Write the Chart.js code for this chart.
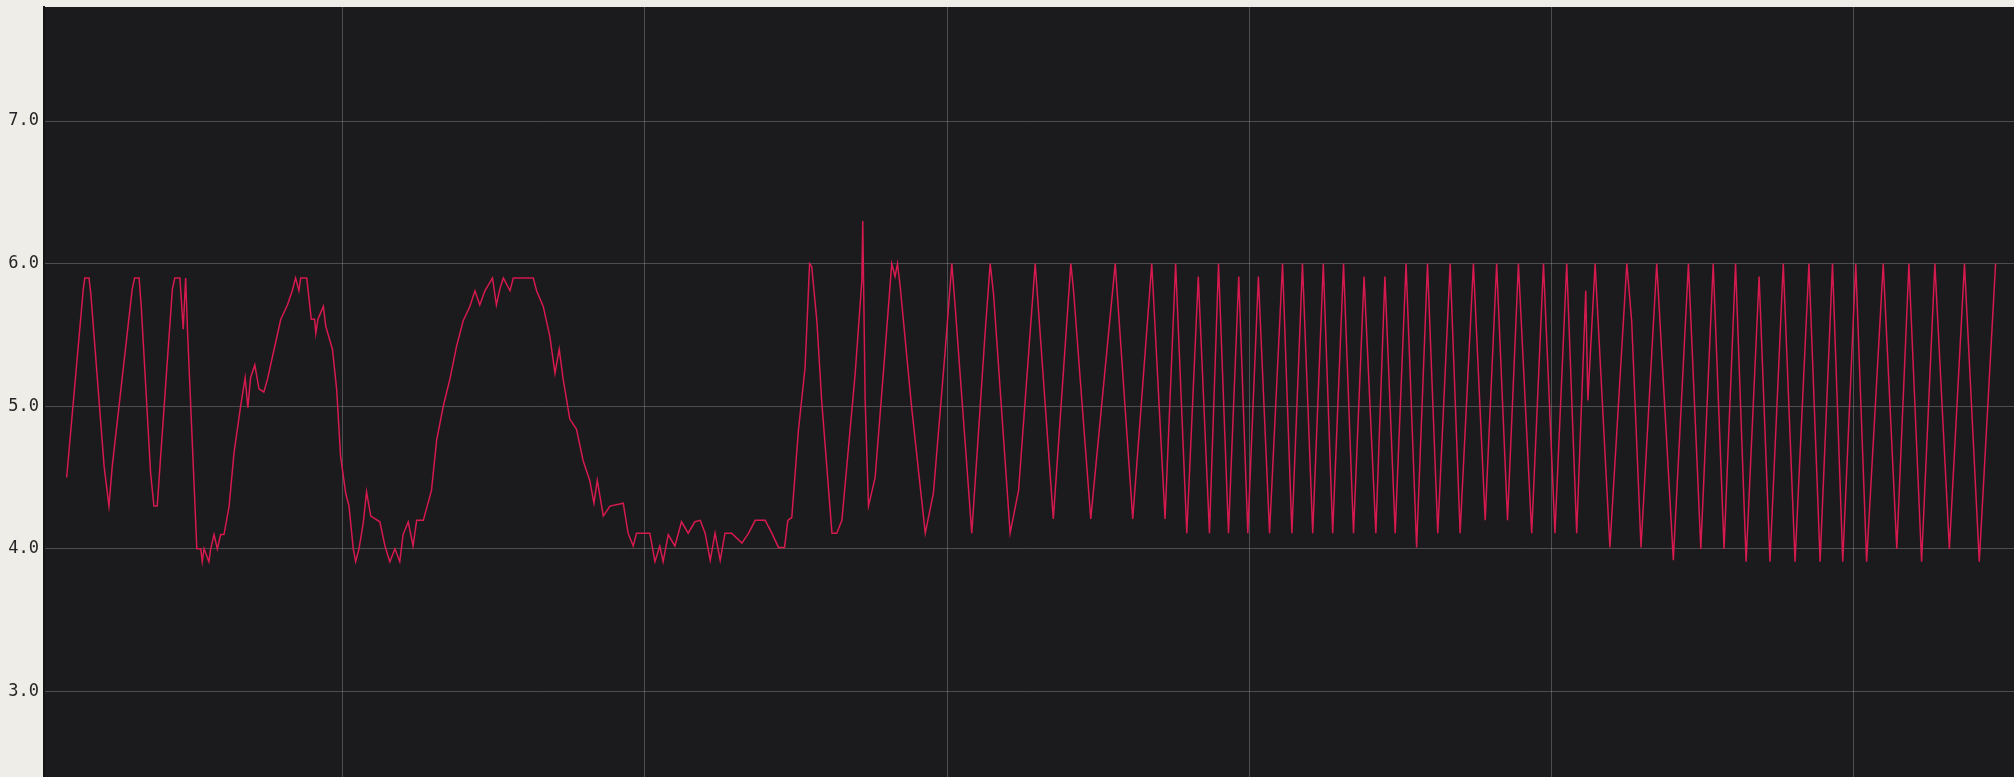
<!DOCTYPE html>
<html>
<head>
<meta charset="utf-8">
<title>waveform</title>
<script src="https://cdn.jsdelivr.net/npm/chart.js@4.4.1/dist/chart.umd.min.js"></script>
<style>
	html, body { margin:0; padding:0; background:#eeede8; }
	#wrap { position:relative; width:2014px; height:777px; }
</style>
</head>
<body>
<div id="wrap"><canvas id="scope"></canvas></div>
<script>

// slow sweep at the start (time in grid units, level in V)
var sweepTimes = [0.85,1.40,1.45,1.59,1.65,2.09,2.25,2.36,3.02,3.10,3.25,3.32,3.63,3.74,3.85,3.94,4.35,4.43,4.60,4.71,4.79,4.85,5.16,5.29,5.34,5.40,5.56,5.62,5.73,5.84,5.95,6.06,6.23,6.39,6.61,6.76,6.85,6.94,7.08,7.22,7.38,7.50,7.72,7.94,8.16,8.32,8.43,8.54,8.60,8.80,8.95,9.06,9.10,9.17,9.35,9.43,9.65,9.79,9.92,10.09,10.20,10.34,10.42,10.53,10.67,10.78,10.92];
var sweepLevels = [4.50,5.82,5.90,5.90,5.79,4.58,4.30,4.58,5.82,5.90,5.90,5.70,4.53,4.30,4.30,4.58,5.82,5.90,5.90,5.54,5.90,5.54,4.00,4.00,3.91,4.00,3.91,4.00,4.10,4.00,4.10,4.10,4.30,4.67,5.00,5.20,4.99,5.20,5.29,5.12,5.10,5.19,5.40,5.61,5.71,5.81,5.90,5.81,5.90,5.90,5.61,5.61,5.51,5.61,5.70,5.56,5.40,5.12,4.65,4.39,4.30,4.00,3.91,4.00,4.18,4.40,4.23];

// the big stepped hump
var humpTimes = [11.22,11.39,11.55,11.72,11.88,11.99,12.16,12.32,12.44,12.66,12.93,13.10,13.32,13.54,13.76,13.98,14.20,14.37,14.53,14.70,14.95,15.08,15.19,15.31,15.53,15.64,16.30,16.41,16.63,16.85,17.02,17.16,17.29,17.51,17.73,17.95,18.17,18.31,18.42,18.62,18.84,19.28,19.44,19.61,19.72,20.16,20.33,20.49,20.60,20.77,20.99,21.21,21.43,21.65];
var humpLevels = [4.19,4.02,3.91,4.00,3.91,4.10,4.19,4.02,4.20,4.20,4.41,4.76,5.00,5.19,5.42,5.60,5.70,5.81,5.71,5.81,5.90,5.71,5.82,5.90,5.81,5.90,5.90,5.81,5.70,5.49,5.23,5.40,5.19,4.91,4.84,4.62,4.48,4.32,4.48,4.23,4.30,4.32,4.11,4.02,4.11,4.11,3.91,4.02,3.91,4.10,4.02,4.19,4.11,4.19];

// flat noise, then the first fast swings
var flatTimes = [21.83,21.99,22.16,22.32,22.49,22.65,22.87,23.21,23.43,23.65,23.98,24.20,24.42,24.62,24.73,24.86,25.08,25.30,25.45,25.52,25.69,25.85,26.19,26.35,26.52,26.96,27.18,27.21,27.29,27.40,27.62,27.95,28.17,28.28,28.36,28.45,28.83,29.28,29.55,29.94,30.16,30.27,30.82,31.26,31.43,31.54,32.09,32.37];
var flatLevels = [4.20,4.11,3.92,4.11,3.92,4.11,4.11,4.04,4.11,4.20,4.20,4.11,4.01,4.01,4.20,4.22,4.83,5.27,6.00,5.98,5.60,5.04,4.11,4.11,4.20,5.23,5.88,6.30,5.04,4.30,4.50,5.39,6.00,5.91,6.00,5.84,4.99,4.11,4.39,5.39,6.00,5.70,4.11,5.51,6.00,5.79,4.11,4.41];

// fast oscillation to the end
var burstTimes = [32.92,33.52,34.10,34.19,34.76,35.57,36.15,36.78,37.22,37.57,37.94,38.32,38.69,38.99,39.32,39.66,39.96,40.31,40.68,41.11,41.42,41.77,42.11,42.46,42.77,43.13,
	43.46,43.81,44.20,44.50,44.84,45.20,45.55,45.91,46.25,46.66,46.99,47.43,47.82,48.20,48.56,48.92,49.36,49.75,50.13,50.52,50.85,51.15,51.22,51.46,51.95,52.51,52.67,52.98,53.50,54.05,
	54.55,54.96,55.37,55.73,56.11,56.46,56.89,57.25,57.69,58.08,58.54,58.91,59.32,59.66,60.09,60.45,61.00,61.45,61.85,62.27,62.71,63.19,63.69,64.18,64.72];
var burstLevels = [6.00,4.21,6.00,5.81,4.21,6.00,4.21,6.00,4.21,6.00,4.11,5.91,4.11,6.00,4.11,5.91,4.11,5.91,4.11,6.00,4.11,6.00,4.11,6.00,4.11,6.00,
	4.11,5.91,4.11,5.91,4.11,6.00,4.01,6.00,4.11,6.00,4.11,6.00,4.20,6.00,4.20,6.00,4.11,6.00,4.11,6.00,4.11,5.81,5.04,6.00,4.01,6.00,5.60,4.01,6.00,3.92,
	6.00,4.00,6.00,4.00,6.00,3.91,5.91,3.91,6.00,3.91,6.00,3.91,6.00,3.91,6.00,3.91,6.00,4.00,6.00,3.91,6.00,4.00,6.00,3.91,6.00];

var yTicks = [3, 4, 5, 6, 7];
var xTicks = [10, 20, 30, 40, 50, 60];

function toPoints(timesArr, levelsArr){
	var pts = [];
	for (var i = 0; i < timesArr.length; i++){
		pts.push({x: timesArr[i], y: levelsArr[i]});
	};
	return pts;
};

var allPoints = toPoints(sweepTimes, sweepLevels)
	.concat(toPoints(humpTimes, humpLevels))
	.concat(toPoints(flatTimes, flatLevels))
	.concat(toPoints(burstTimes, burstLevels));

// dark screen behind the trace
var screenFill = {
	id: 'screenFill',
	beforeDraw: function(chart){
		var a = chart.chartArea;
		var ctx = chart.ctx;
		ctx.save();
		ctx.fillStyle = '#1b1a1d';
		ctx.fillRect(a.left, a.top, a.right - a.left, a.bottom - a.top);
		ctx.restore();
	}
};

function fixedTicks(list){
	return function(scale){
		scale.ticks = list.map(function(v){ return {value: v}; });
	};
};

// no label padding, the plot runs edge to edge
function noPadding(scale){
	scale.paddingTop = 0;
	scale.paddingBottom = 0;
	scale.paddingLeft = 0;
	scale.paddingRight = 0;
};

var context = document.getElementById('scope').getContext('2d');
var myNewChart = new Chart(context, {
	type: 'line',
	data: {
		datasets: [{
			data: allPoints,
			borderColor: '#d41a4e',
			borderWidth: 1.5,
			pointRadius: 0,
			tension: 0,
			fill: false
		}]
	},
	options: {
		responsive: true,
		maintainAspectRatio: false,
		devicePixelRatio: 1,
		animation: false,
		parsing: false,
		layout: { padding: { top: 7, right: 0, bottom: 0, left: 0 } },
		plugins: { legend: { display: false }, tooltip: { enabled: false } },
		scales: {
			x: {
				type: 'linear',
				min: 0.1,
				max: 65.33,
				afterBuildTicks: fixedTicks(xTicks),
				afterFit: function(scale){ scale.height = 0; noPadding(scale); },
				ticks: { display: false },
				border: { display: false },
				grid: { color: 'rgba(185,185,185,0.32)', lineWidth: 1, drawTicks: false }
			},
			y: {
				type: 'linear',
				min: 2.4,
				max: 7.8,
				afterBuildTicks: fixedTicks(yTicks),
				afterFit: function(scale){ scale.width = 44; noPadding(scale); },
				ticks: {
					padding: 5,
					color: '#262626',
					font: { family: '"DejaVu Sans Mono", monospace', size: 17 },
					callback: function(v){ return v.toFixed(1); }
				},
				border: { display: true, color: '#151515', width: 2 },
				grid: { color: 'rgba(185,185,185,0.32)', lineWidth: 1, drawTicks: false }
			}
		}
	},
	plugins: [screenFill]
});

</script>
</body>
</html>
